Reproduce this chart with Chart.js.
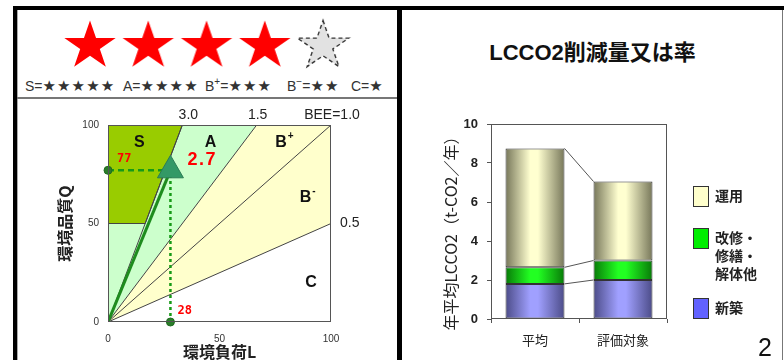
<!DOCTYPE html>
<html lang="ja">
<head>
<meta charset="utf-8">
<title>CASBEE 評価</title>
<script src="https://cdn.jsdelivr.net/npm/chart.js@4.4.1/dist/chart.umd.min.js"></script>
<style>
html,body{margin:0;padding:0;background:#fff;}
body{width:784px;height:360px;overflow:hidden;position:relative;
  font-family:"Liberation Sans","Noto Sans CJK JP",sans-serif;color:#222;}
.abs{position:absolute;}
.rank{position:absolute;top:77px;font-size:14px;line-height:18px;color:#333;white-space:nowrap;}
.rank .st{font-family:"DejaVu Sans",sans-serif;font-size:15px;letter-spacing:1.1px;}
.rank sup{font-size:10px;line-height:0;vertical-align:6px;}
.lg-box{position:absolute;left:693px;width:14px;border:1px solid #333;}
.lg-txt{position:absolute;left:715px;font-size:14px;font-weight:bold;line-height:18px;color:#222;
  font-family:"Noto Sans CJK JP",sans-serif;}
</style>
</head>
<body>
<!-- frame -->
<div class="abs" style="left:13px;top:6px;width:771px;height:4px;background:#000"></div>
<div class="abs" style="left:13px;top:6px;width:4px;height:354px;background:#000"></div>
<div class="abs" style="left:17px;top:10px;width:1px;height:350px;background:#aaa"></div>
<div class="abs" style="left:397px;top:6px;width:5px;height:354px;background:#000"></div>
<div class="abs" style="left:782px;top:10px;width:1px;height:350px;background:#777"></div>
<div class="abs" style="left:17px;top:97px;width:380px;height:2px;background:#777"></div>

<!-- rank legend -->
<div class="rank" style="left:25px">S=<span class="st">★★★★★</span></div>
<div class="rank" style="left:123px">A=<span class="st">★★★★</span></div>
<div class="rank" style="left:205px">B<sup>+</sup>=<span class="st">★★★</span></div>
<div class="rank" style="left:287px">B<sup>−</sup>=<span class="st">★★</span></div>
<div class="rank" style="left:351px">C=<span class="st">★</span></div>

<div class="abs" style="left:17px;top:16px;width:380px;height:60px"><canvas id="stars"></canvas></div>
<div class="abs" style="left:17px;top:100px;width:380px;height:270px"><canvas id="bee"></canvas></div>

<div class="abs" style="left:402px;top:40px;width:381px;text-align:center;font-size:22px;font-weight:bold;line-height:26px;color:#111">LCCO2削減量又は率</div>
<div class="abs" style="left:402px;top:100px;width:381px;height:260px"><canvas id="lcco2"></canvas></div>
<div id="legend"></div>
<div class="abs" style="left:758px;top:333px;font-size:25px;line-height:28px;color:#111">2</div>

<script>
// ---- rating ----
const starSlots = [1, 2, 3, 4, 5];
const starRating = 4;

// ---- BEE chart ----
const beeLevels = [3.0, 1.5, 1.0, 0.5];
const beeLabels = ['3.0', '1.5', 'BEE=1.0', '0.5'];
const loadL = 28;
const qualityQ = 77;
const beeValue = 2.7;
const sQualityMin = 50;
const axisTicksLQ = [0, 50, 100];

// ---- LCCO2 chart ----
const categories = ['平均', '評価対象'];
const seriesNames = ['新築', '改修・修繕・解体他', '運用'];
const newBuild = [1.8, 2.0];
const renovation = [0.85, 1.0];
const operation = [6.1, 4.05];
const yTicksLcco2 = [0, 2, 4, 6, 8, 10];

Chart.defaults.font.family = '"Liberation Sans", "Noto Sans CJK JP", sans-serif';
Chart.defaults.color = '#333';
Chart.defaults.animation = false;
Chart.defaults.events = [];
Chart.defaults.plugins.tooltip.enabled = false;
Chart.defaults.plugins.legend.display = false;

// ---------- star marks ----------
function makeStar(fill, stroke, dashed) {
  const c = document.createElement('canvas');
  c.width = 60; c.height = 56;
  const g = c.getContext('2d');
  const cx = 30, cy = 28, rx = 27, ry = 25.5, inner = 0.382;
  g.beginPath();
  for (let i = 0; i < 10; i++) {
    const a = -Math.PI / 2 + i * Math.PI / 5;
    const f = i % 2 ? inner : 1;
    const px = cx + Math.cos(a) * rx * f, py = cy + Math.sin(a) * ry * f;
    i ? g.lineTo(px, py) : g.moveTo(px, py);
  }
  g.closePath();
  g.fillStyle = fill; g.fill();
  if (stroke) {
    g.strokeStyle = stroke; g.lineWidth = 1.4;
    if (dashed) g.setLineDash([4, 3]);
    g.stroke();
  }
  return c;
}
const starOn = makeStar('#ff0000', null, false);
const starOff = makeStar('#e2e2e2', '#333', true);

new Chart(document.getElementById('stars'), {
  type: 'scatter',
  data: { datasets: [{
    data: starSlots.map(s => ({ x: s, y: 0 })),
    pointStyle: ctx => (ctx.dataIndex < starRating ? starOn : starOff),
    pointRadius: 28
  }]},
  options: {
    responsive: true, maintainAspectRatio: false,
    layout: { padding: 0, autoPadding: false },
    scales: {
      x: { type: 'linear', display: false, min: -0.253, max: 6.27 },
      y: { display: false, min: -1, max: 1 }
    }
  }
});

// ---------- BEE chart ----------
function edgePoint(k) {
  return k >= 1 ? { x: 100 / k, y: 100 } : { x: 100, y: 100 * k };
}
const origin = { x: 0, y: 0 };
const polyA = [origin, edgePoint(beeLevels[1]), { x: 0, y: 100 }];
const polyB = [origin, edgePoint(beeLevels[3]), { x: 100, y: 100 }, edgePoint(beeLevels[1])];
const polyS = [{ x: 0, y: sQualityMin }, { x: sQualityMin / beeLevels[0], y: sQualityMin },
               edgePoint(beeLevels[0]), { x: 0, y: 100 }];

const regionBase = { fill: 'shape', borderWidth: 0, borderColor: 'transparent', pointRadius: 0, tension: 0 };
const beeDatasets = [
  { ...regionBase, data: polyA, backgroundColor: '#ccffcc', order: 20 },
  { ...regionBase, data: polyB, backgroundColor: '#ffffcc', order: 20 },
  { ...regionBase, data: polyS, backgroundColor: '#99cc00', order: 15,
    borderWidth: 1, borderColor: '#444' },
  ...beeLevels.map(k => ({ data: [origin, edgePoint(k)], borderColor: '#444', borderWidth: 1,
    pointRadius: 0, fill: false, order: 10 })),
  { data: [origin, { x: loadL, y: qualityQ }], borderColor: '#1e8c1e', borderWidth: 3,
    pointRadius: 0, fill: false, order: 5 },
  { data: [{ x: 0, y: qualityQ }, { x: loadL, y: qualityQ }], borderColor: '#169a16', borderWidth: 2.5,
    borderDash: [6, 4], pointRadius: 0, fill: false, order: 6, clip: false },
  { data: [{ x: loadL, y: 0 }, { x: loadL, y: qualityQ }], borderColor: '#169a16', borderWidth: 2.5,
    borderDash: [3, 3], pointRadius: 0, fill: false, order: 6, clip: false },
  { data: [{ x: 0, y: qualityQ }, { x: loadL, y: 0 }], showLine: false, pointRadius: 4,
    pointBackgroundColor: '#2a7d2a', pointBorderColor: '#1f6b1f', pointBorderWidth: 1,
    order: 2, clip: false },
  { data: [{ x: loadL, y: qualityQ }], showLine: false, pointStyle: 'triangle', pointRadius: 15,
    pointBackgroundColor: '#339966', pointBorderColor: '#2b7d55', pointBorderWidth: 1, order: 1 }
];

function supText(ctx, base, sup, x, y, size) {
  ctx.font = 'bold ' + size + 'px "Liberation Sans", sans-serif';
  ctx.textAlign = 'left';
  const w = ctx.measureText(base).width;
  ctx.fillText(base, x, y);
  ctx.font = 'bold ' + Math.round(size * 0.62) + 'px "Liberation Sans", sans-serif';
  ctx.fillText(sup, x + w + 1, y - size * 0.42);
}

const beeDecor = {
  id: 'beeDecor',
  afterDatasetsDraw(chart) {
    const { ctx, chartArea: a, scales: { x, y } } = chart;
    ctx.save();
    ctx.strokeStyle = '#555'; ctx.lineWidth = 1;
    ctx.strokeRect(a.left + 0.5, a.top + 0.5, a.width - 1, a.height - 1);

    ctx.fillStyle = '#222';
    ctx.textBaseline = 'middle';
    ctx.font = '14px "Liberation Sans", sans-serif';
    beeLevels.forEach((k, i) => {
      const e = edgePoint(k);
      if (k >= 1) {
        ctx.textAlign = 'center';
        ctx.fillText(beeLabels[i], x.getPixelForValue(e.x) + (i === 0 ? 6 : 1), a.top - 10);
      } else {
        ctx.textAlign = 'left';
        ctx.fillText(beeLabels[i], a.right + 9, y.getPixelForValue(e.y));
      }
    });

    ctx.font = 'bold 16px "Liberation Sans", sans-serif';
    ctx.textAlign = 'center';
    ctx.fillStyle = '#111';
    ctx.fillText('S', x.getPixelForValue(14), y.getPixelForValue(91));
    ctx.fillText('A', x.getPixelForValue(46), y.getPixelForValue(91));
    ctx.fillText('C', x.getPixelForValue(91), y.getPixelForValue(20));
    supText(ctx, 'B', '+', x.getPixelForValue(75), y.getPixelForValue(91), 16);
    supText(ctx, 'B', '-', x.getPixelForValue(86), y.getPixelForValue(63), 16);

    const px = x.getPixelForValue(loadL), py = y.getPixelForValue(qualityQ);
    ctx.fillStyle = '#ff0000';
    ctx.textAlign = 'left';
    ctx.font = 'bold 12px "DejaVu Sans Mono", monospace';
    ctx.fillText(String(qualityQ), x.getPixelForValue(0) + 9, py - 11);
    ctx.fillText(String(loadL), px + 7, y.getPixelForValue(0) - 11);
    ctx.font = 'bold 18px "Liberation Sans", sans-serif';
    ctx.fillText(beeValue.toFixed(1).split('').join(String.fromCharCode(8202)), px + 17, py - 10);
    ctx.restore();
  }
};

new Chart(document.getElementById('bee'), {
  type: 'line',
  data: { datasets: beeDatasets },
  options: {
    responsive: true, maintainAspectRatio: false,
    layout: { padding: { left: 0, top: 25, right: 66, bottom: 8 }, autoPadding: false },
    scales: {
      x: {
        type: 'linear', min: 0, max: 100,
        afterBuildTicks: s => { s.ticks = axisTicksLQ.map(v => ({ value: v })); },
        afterFit: s => { s.height = 40; },
        grid: { display: false, drawTicks: false }, border: { display: false },
        ticks: { padding: 11, font: { size: 10 }, color: '#333' },
        title: { display: true, text: '環境負荷L', color: '#222', padding: { top: 0, bottom: 0 },
          font: { size: 16, weight: 'bold', family: '"Noto Sans CJK JP", sans-serif' } }
      },
      y: {
        type: 'linear', min: 0, max: 100,
        afterBuildTicks: s => { s.ticks = axisTicksLQ.map(v => ({ value: v })); },
        afterFit: s => { s.width = 91; },
        grid: { display: false, drawTicks: false }, border: { display: false },
        ticks: { padding: 9, font: { size: 10 }, color: '#333' },
        title: { display: true, text: '環境品質Q', color: '#222', padding: { top: 38, bottom: 0 },
          font: { size: 16, weight: 'bold', family: '"Noto Sans CJK JP", sans-serif' } }
      }
    }
  },
  plugins: [beeDecor]
});

// ---------- LCCO2 chart ----------
const BAR_PCT = 0.67;
const shades = [
  { center: '#a0a0ff', edge: '#4c4c88', legend: '#6262ff' },
  { center: '#22ff22', edge: '#087a08', legend: '#00ee00' },
  { center: '#ffffd0', edge: '#77775a', legend: '#ffffcc' }
];
function barShade(s) {
  return ctx => {
    const chart = ctx.chart, xs = chart.scales.x;
    if (!chart.chartArea || !xs || ctx.type !== 'data') return s.center;
    const cx = xs.getPixelForValue(ctx.dataIndex);
    const w = xs.width / categories.length * BAR_PCT;
    const g = chart.ctx.createLinearGradient(cx - w / 2, 0, cx + w / 2, 0);
    g.addColorStop(0, s.edge);
    g.addColorStop(0.42, s.center);
    g.addColorStop(0.55, s.center);
    g.addColorStop(1, s.edge);
    return g;
  };
}
const seriesValues = [newBuild, renovation, operation];

const connectors = {
  id: 'connectors',
  afterDatasetsDraw(chart) {
    const { ctx, chartArea: a } = chart;
    ctx.save();
    ctx.strokeStyle = '#555'; ctx.lineWidth = 1;
    chart.data.datasets.forEach((d, i) => {
      const m = chart.getDatasetMeta(i);
      const p = m.data[0], q = m.data[1];
      ctx.beginPath();
      ctx.moveTo(p.x + p.width / 2, p.y);
      ctx.lineTo(q.x - q.width / 2, q.y);
      ctx.stroke();
    });
    ctx.strokeStyle = '#555';
    ctx.strokeRect(a.left + 0.5, a.top + 0.5, a.width - 1, a.height - 1);
    ctx.restore();
  }
};

new Chart(document.getElementById('lcco2'), {
  type: 'bar',
  data: {
    labels: categories,
    datasets: seriesValues.map((v, i) => ({
      label: seriesNames[i], data: v,
      backgroundColor: barShade(shades[i]),
      borderColor: '#333', borderWidth: 1, borderSkipped: false,
      barPercentage: BAR_PCT, categoryPercentage: 1
    }))
  },
  options: {
    responsive: true, maintainAspectRatio: false,
    layout: { padding: { left: 0, top: 24, right: 116, bottom: 0 }, autoPadding: false },
    scales: {
      x: {
        stacked: true,
        afterFit: s => { s.height = 41; },
        grid: { drawOnChartArea: false, drawTicks: true, tickLength: 4, color: '#555' },
        border: { display: false },
        ticks: { padding: 9, font: { size: 13, family: '"Noto Sans CJK JP", sans-serif' }, color: '#222' }
      },
      y: {
        stacked: true, min: 0, max: 10,
        afterBuildTicks: s => { s.ticks = yTicksLcco2.map(v => ({ value: v })); },
        afterFit: s => { s.width = 89; },
        grid: { drawOnChartArea: false, drawTicks: true, tickLength: 4, color: '#555' },
        border: { display: false },
        ticks: { padding: 9, font: { size: 13, weight: 'bold' }, color: '#222' },
        title: { display: true, text: '年平均LCCO2（t-CO2／年）\u3000\u2002', color: '#222',
          padding: { top: 39, bottom: 0 },
          font: { size: 16, family: '"Noto Sans CJK JP", sans-serif' } }
      }
    }
  },
  plugins: [connectors]
});

// legend, top entry is the topmost stack
const legendTops = [298, 228, 186];
const legendLines = [['新築'], ['改修・', '修繕・', '解体他'], ['運用']];
const lg = document.getElementById('legend');
seriesNames.forEach((n, i) => {
  const box = document.createElement('div');
  box.className = 'lg-box';
  box.style.top = legendTops[i] + 'px';
  box.style.height = '19px';
  box.style.background = shades[i].legend;
  lg.appendChild(box);
  const t = document.createElement('div');
  t.className = 'lg-txt';
  t.style.top = legendTops[i] + 'px';
  t.innerHTML = legendLines[i].join('<br>');
  lg.appendChild(t);
});
</script>
</body>
</html>
